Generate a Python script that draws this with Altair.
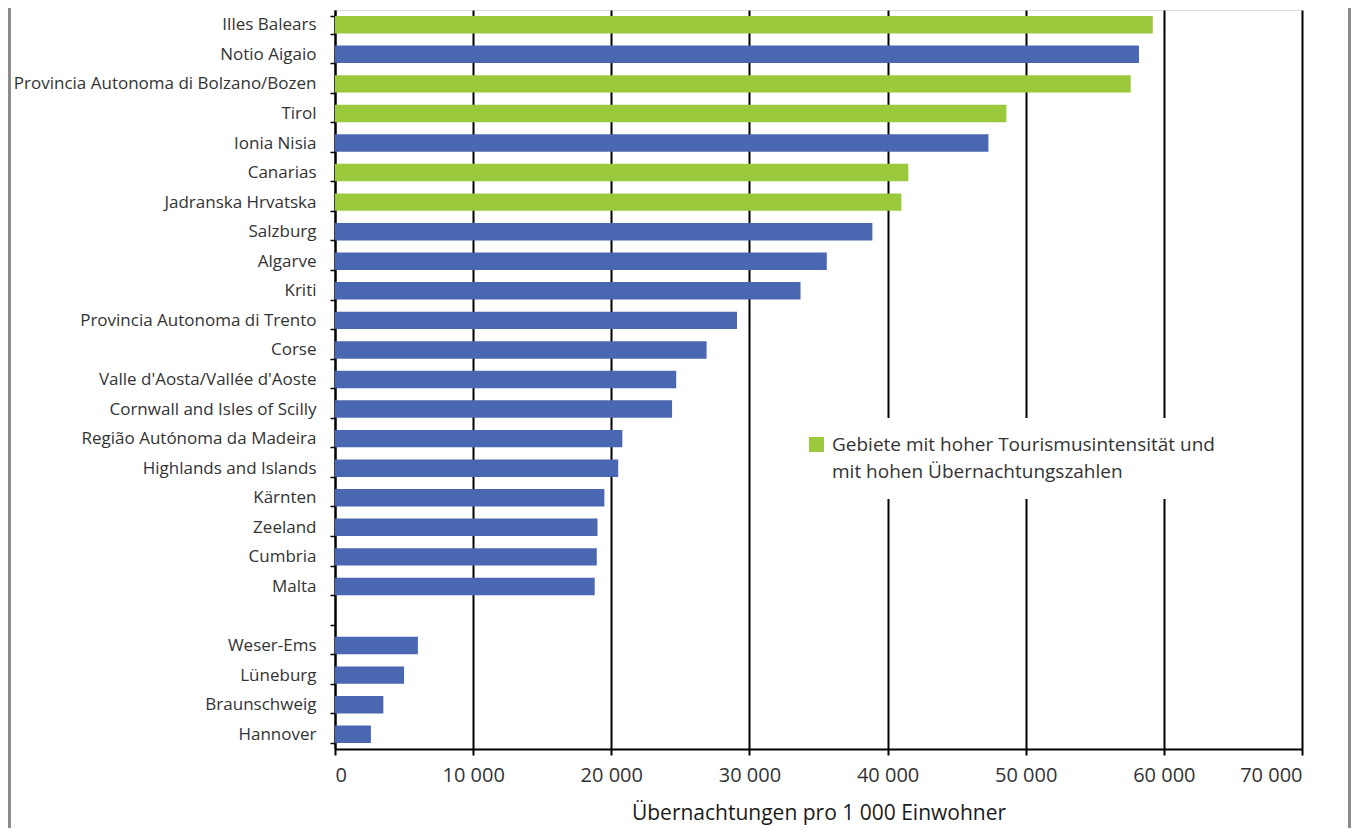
import altair as alt
import pandas as pd

regions = [
    "Illes Balears", "Notio Aigaio", "Provincia Autonoma di Bolzano/Bozen", "Tirol",
    "Ionia Nisia", "Canarias", "Jadranska Hrvatska", "Salzburg", "Algarve", "Kriti",
    "Provincia Autonoma di Trento", "Corse", "Valle d'Aosta/Vallée d'Aoste",
    "Cornwall and Isles of Scilly", "Região Autónoma da Madeira", "Highlands and Islands",
    "Kärnten", "Zeeland", "Cumbria", "Malta",
    "Weser-Ems", "Lüneburg", "Braunschweig", "Hannover",
]
values = [
    59200, 58200, 57600, 48600, 47300, 41500, 41000, 38900, 35600, 33700,
    29100, 26900, 24700, 24400, 20800, 20500, 19500, 19000, 18950, 18800,
    6000, 5000, 3500, 2600,
]
groups = [
    "hoch", "andere", "hoch", "hoch", "andere", "hoch", "hoch", "andere", "andere", "andere",
    "andere", "andere", "andere", "andere", "andere", "andere", "andere", "andere", "andere", "andere",
    "andere", "andere", "andere", "andere",
]
spacer = " "
y_order = regions[:20] + [spacer] + regions[20:]
x_ticks = [0, 10000, 20000, 30000, 40000, 50000, 60000, 70000]
legend_lines = ["Gebiete mit hoher Tourismusintensität und", "mit hohen Übernachtungszahlen"]

GREEN = "#9aca3c"
BLUE = "#4a67b1"
FONT = "Open Sans"

df = pd.DataFrame({"region": regions, "value": values, "group": groups})

label_expr = ("datum.value == 'hoch' ? '" + legend_lines[0] + "' : '" + legend_lines[1] + "'")

bars = alt.Chart(df).mark_bar().encode(
    y=alt.Y("region:N", sort=y_order,
            scale=alt.Scale(domain=y_order, paddingInner=0.41, paddingOuter=0.205),
            axis=alt.Axis(title=None, tickBand="extent", domainColor="black", domainWidth=2,
                          tickColor="black", tickWidth=1.5, tickSize=5, labelPadding=14,
                          labelFont=FONT, labelFontSize=17, labelColor="#333333",
                          labelLimit=400, grid=False)),
    x=alt.X("value:Q", scale=alt.Scale(domain=[0, 70000], nice=False),
            axis=alt.Axis(title="Übernachtungen pro 1 000 Einwohner", values=x_ticks,
                          labelExpr="replace(format(datum.value, ','), ',', ' ')",
                          grid=True, gridColor="black", gridWidth=2,
                          domainColor="black", domainWidth=2, tickColor="black",
                          tickWidth=2, tickSize=6, labelPadding=10,
                          labelFont=FONT, labelFontSize=20, labelColor="#333333",
                          titleFont=FONT, titleFontSize=21, titleFontWeight="normal",
                          titleColor="#1a1a1a", titlePadding=17)),
    color=alt.Color("group:N",
                    scale=alt.Scale(domain=["hoch", "hoch2", "andere"],
                                    range=[GREEN, "#ffffff", BLUE]),
                    legend=alt.Legend(values=["hoch", "hoch2"], title=None, orient="none",
                                      legendX=455, legendY=408, labelExpr=label_expr,
                                      symbolType="square", symbolSize=225,
                                      symbolStrokeWidth=0, fillColor="white", padding=17,
                                      rowPadding=7,
                                      labelFont=FONT, labelFontSize=19, labelColor="#333333",
                                      labelLimit=0, labelOffset=6)),
)

frame_left = alt.Chart(pd.DataFrame({"k": [0]})).mark_rule(color="#8c8c8c", strokeWidth=3).encode(
    x=alt.value(-325.5), y=alt.value(-12), y2=alt.value(830),
)
frame_right = alt.Chart(pd.DataFrame({"k": [0]})).mark_rule(color="#8c8c8c", strokeWidth=3).encode(
    x=alt.value(1014.5), y=alt.value(-12), y2=alt.value(830),
)

chart = alt.layer(bars, frame_left, frame_right).properties(
    width=967, height=739,
    padding={"left": 327, "top": 2, "right": 49, "bottom": 79},
    autosize=alt.AutoSizeParams(type="none"),
).configure_view(stroke=None).configure(font=FONT)

chart.save("out.html", embed_options={"renderer": "svg", "actions": False})
